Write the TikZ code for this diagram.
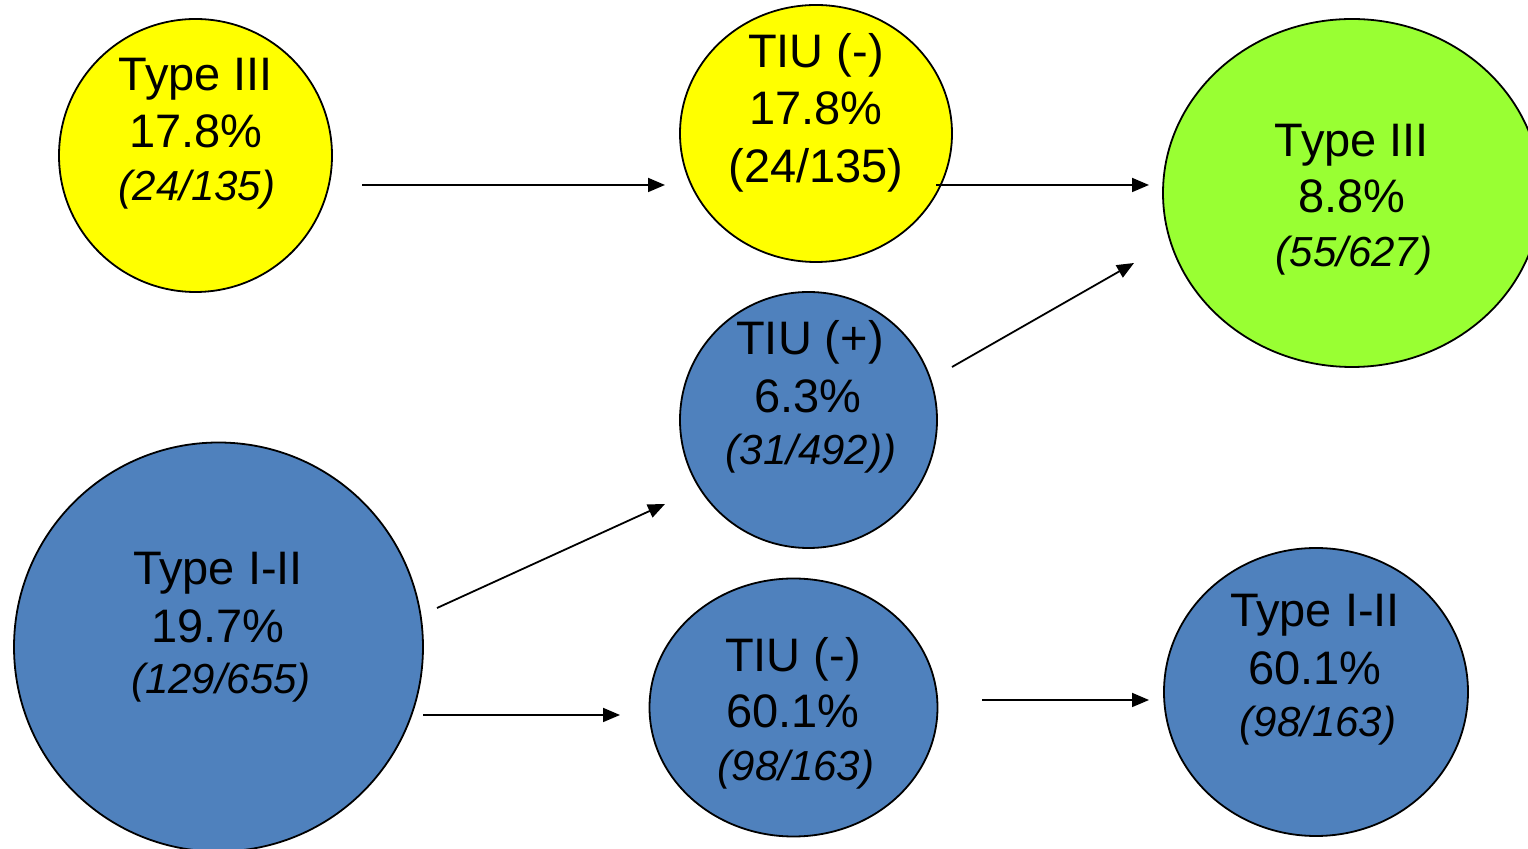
\documentclass[tikz,border=0pt]{standalone}
\usepackage{fontspec}
\setmainfont{Liberation Sans}
\usetikzlibrary{shapes.geometric,arrows.meta}
\definecolor{bubyellow}{HTML}{FFFF00}
\definecolor{bubgreen}{HTML}{99FF33}
\definecolor{bubblue}{HTML}{4F81BD}
\begin{document}
\begin{tikzpicture}[x=0.5pt,y=-0.5pt,
  bubble/.style={ellipse,draw=black,line width=0.9pt,inner sep=0pt,outer sep=0pt},
  bigtxt/.style={anchor=base,inner sep=0pt,font=\fontsize{23.5}{28}\selectfont},
  smalltxt/.style={anchor=base,inner sep=0pt,font=\fontsize{21}{24}\selectfont\itshape},
  flow/.style={line width=0.9pt,-{Triangle[length=8.5pt,width=7pt]}}]
\useasboundingbox (0,0) rectangle (1528,849);

% bubbles
\node[bubble,fill=bubyellow,minimum width=136.5pt,minimum height=136.5pt] (t3a) at (195.5,155.5) {};
\node[bubble,fill=bubyellow,minimum width=136pt,minimum height=128.5pt] (tiuneg) at (816,133.5) {};
\node[bubble,fill=bubgreen,minimum width=189pt,minimum height=174pt] (t3b) at (1352,193) {};
\node[bubble,fill=bubblue,minimum width=128.5pt,minimum height=128pt] (tiupos) at (808.5,420) {};
\node[bubble,fill=bubblue,minimum width=204.5pt,minimum height=204.5pt] (t12a) at (218.5,647) {};
\node[bubble,fill=bubblue,minimum width=144pt,minimum height=129pt] (tiunegb) at (793.5,707.5) {};
\node[bubble,fill=bubblue,minimum width=152pt,minimum height=144pt] (t12b) at (1316,692) {};

% labels
\node[bigtxt] (t3a1) at (196,91) {Type III};
\node[bigtxt] (t3a2) at (196,148) {17.8\%};
\node[smalltxt] (t3a3) at (197,201) {(24/135)};

\node[bigtxt] (tiuneg1) at (816,68) {TIU (-)};
\node[bigtxt] (tiuneg2) at (816,125) {17.8\%};
\node[bigtxt] (tiuneg3) at (816,183) {(24/135)};

\node[bigtxt] (t3b1) at (1352,157) {Type III};
\node[bigtxt] (t3b2) at (1352,213) {8.8\%};
\node[smalltxt] (t3b3) at (1354,267) {(55/627)};

\node[bigtxt] (tiupos1) at (810,355) {TIU (+)};
\node[bigtxt] (tiupos2) at (808,413) {6.3\%};
\node[smalltxt] (tiupos3) at (811,465) {(31/492))};

\node[bigtxt] (t12a1) at (218,585) {Type I-II};
\node[bigtxt] (t12a2) at (218,643) {19.7\%};
\node[smalltxt] (t12a3) at (221,694) {(129/655)};

\node[bigtxt] (tiunegb1) at (793,672) {TIU (-)};
\node[bigtxt] (tiunegb2) at (793,728) {60.1\%};
\node[smalltxt] (tiunegb3) at (796,781) {(98/163)};

\node[bigtxt] (t12b1) at (1315,627) {Type I-II};
\node[bigtxt] (t12b2) at (1315,685) {60.1\%};
\node[smalltxt] (t12b3) at (1318,737) {(98/163)};

% arrow end points
\coordinate (a1s) at (362,185);   \coordinate (a1e) at (665,185);
\coordinate (a2s) at (936,185);   \coordinate (a2e) at (1149,185);
\coordinate (a3s) at (952,367);   \coordinate (a3e) at (1134,263);
\coordinate (a4s) at (437,608);   \coordinate (a4e) at (665,504);
\coordinate (a5s) at (423,715);   \coordinate (a5e) at (620,715);
\coordinate (a6s) at (982,700);   \coordinate (a6e) at (1149,700);

\draw[flow] (a1s) -- (a1e);
\draw[flow] (a2s) -- (a2e);
\draw[flow] (a3s) -- (a3e);
\draw[flow] (a4s) -- (a4e);
\draw[flow] (a5s) -- (a5e);
\draw[flow] (a6s) -- (a6e);
\end{tikzpicture}
\end{document}
